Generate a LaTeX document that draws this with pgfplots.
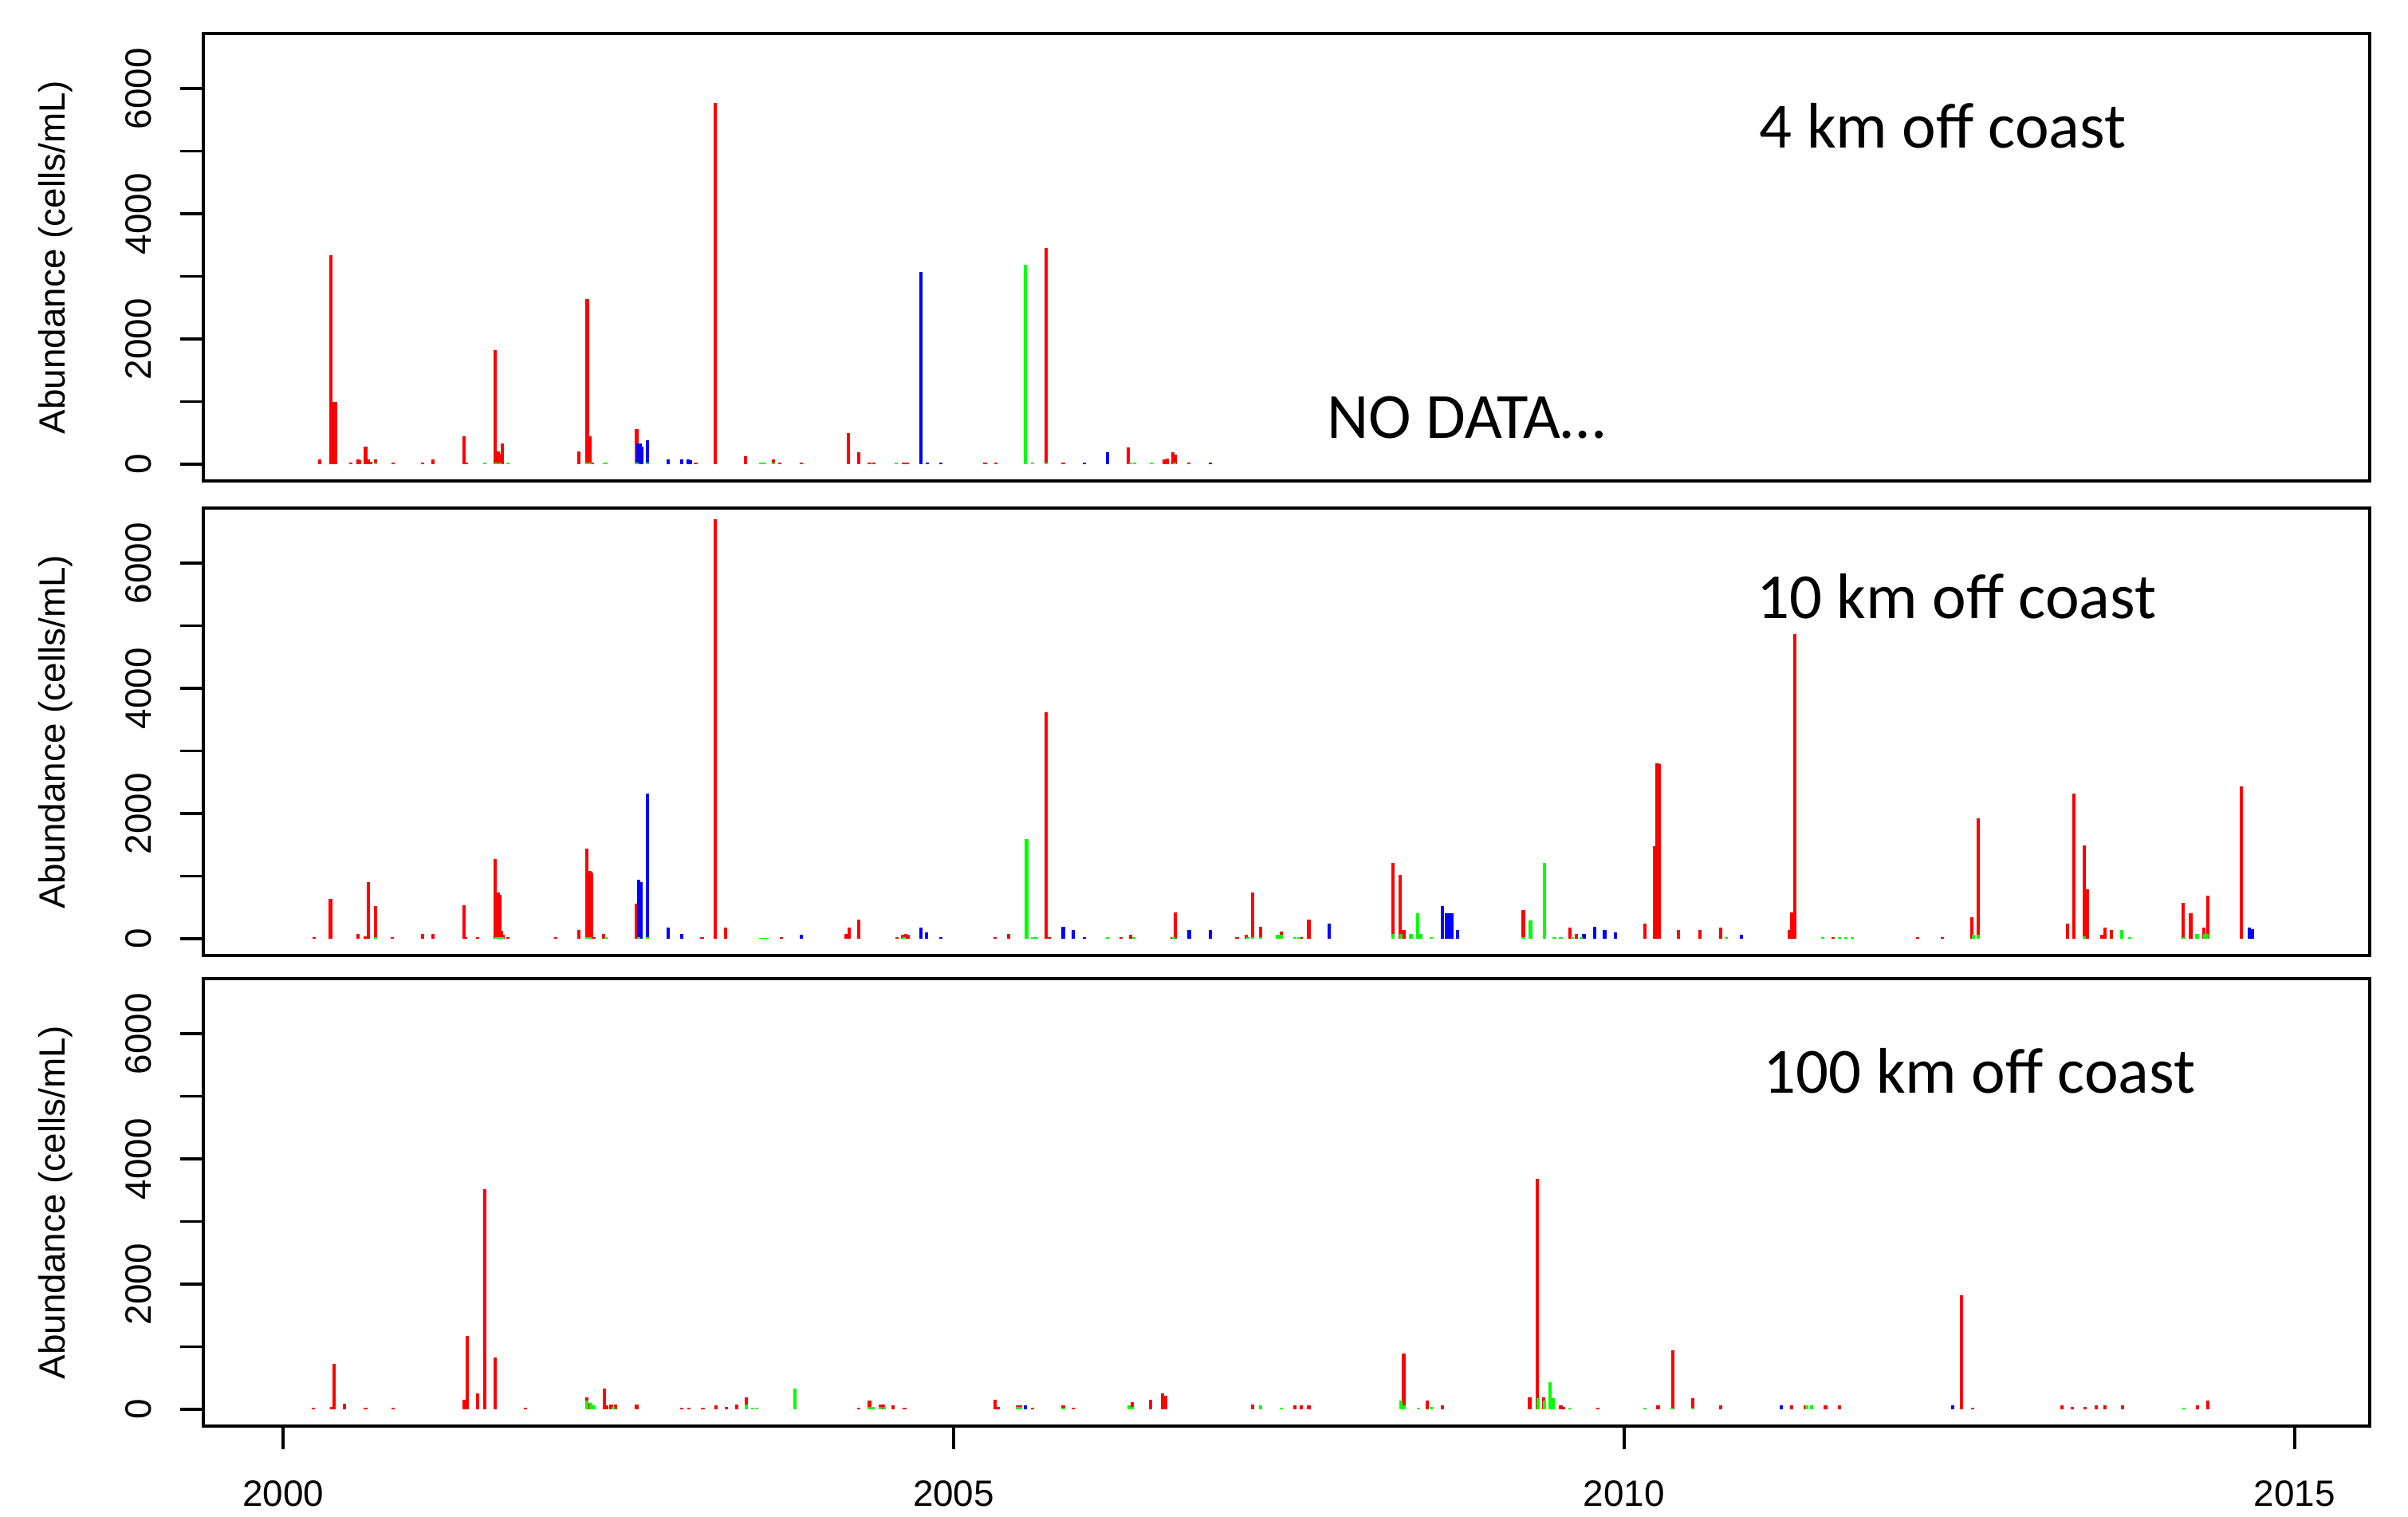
\documentclass[border=0pt]{standalone}
\usepackage{fontspec}
\setmainfont{Liberation Sans}
\newfontfamily\calibri{Carlito}
\usepackage{pgfplots}
\pgfplotsset{compat=1.18}
\definecolor{rred}{RGB}{255,0,0}
\definecolor{rgreen}{RGB}{0,255,0}
\definecolor{rblue}{RGB}{0,0,255}
\pgfplotsset{panel/.style={
  scale only axis, width=652.08pt, height=134.64pt,
  xmin=1999.405, xmax=2015.56, ymin=-267, ymax=6880,
  ytick={0,1000,2000,3000,4000,5000,6000},
  yticklabels={0,,2000,,4000,,6000},
  ytick pos=left, xtick pos=left, tick align=outside,
  major tick length=7pt,
  every tick/.style={black, line width=0.8pt},
  axis line style={line width=0.9pt},
  tick label style={font=\fontsize{11}{13}\selectfont},
  yticklabel style={rotate=90, anchor=south, inner sep=0pt},
  yticklabel shift=8.4pt,
  xticklabel style={anchor=north, inner sep=0pt},
  xticklabel shift=9.3pt,
  clip mode=individual},
  spike/.style={ycomb, mark=none, line width=1.0pt}}
\begin{document}
\begin{tikzpicture}
\path[use as bounding box] (0pt,0pt) rectangle (724.8pt,-456.24pt);
% ---------------- Panel 1: 4 km
\begin{axis}[panel, at={(61.2pt,-10.08pt)}, anchor=north west, xtick=\empty]
\addplot[spike, color=rred] coordinates {
(2000.274,74)(2000.355,3340)(2000.382,1000)(2000.392,1000)(2000.503,28)(2000.557,83)(2000.567,60)(2000.615,282)(2000.637,83)(2000.653,40)(2000.688,83)(2000.822,25)(2001.038,30)(2001.115,83)(2001.347,444)(2001.369,30)(2001.583,1824)(2001.605,199)(2001.621,170)(2001.637,338)(2002.207,199)(2002.268,2634)(2002.290,444)(2002.309,30)(2002.637,560)(2003.077,25)(2003.220,5778)(2003.449,134)(2003.656,83)(2003.704,30)(2003.863,25)(2004.213,500)(2004.293,190)(2004.373,28)(2004.405,28)(2004.628,30)(2004.653,30)(2005.235,28)(2005.314,28)(2005.690,3454)(2005.818,25)(2006.302,273)(2006.572,74)(2006.595,90)(2006.636,190)(2006.652,150)(2006.754,25)};
\addplot[spike, color=rblue] coordinates {
(2002.643,338)(2002.662,338)(2002.675,282)(2002.717,389)(2002.870,83)(2002.971,83)(2003.019,83)(2003.038,60)(2004.755,3070)(2004.803,25)(2004.905,25)(2005.974,25)(2006.149,190)(2006.913,25)};
\addplot[spike, color=rgreen] coordinates {
(2000.688,25)(2001.506,25)(2001.586,25)(2001.618,25)(2001.675,25)(2002.264,25)(2002.287,25)(2002.398,25)(2002.408,25)(2002.637,25)(2002.717,25)(2003.561,20)(2003.577,20)(2003.592,20)(2003.656,25)(2004.573,25)(2005.537,3185)(2005.591,30)(2005.690,20)(2006.318,25)(2006.350,25)(2006.477,25)(2006.646,25)};
\node[anchor=base west, inner sep=0pt, font=\calibri\fontsize{19.4}{23}\selectfont] at (axis cs:2011.005,5057) {4 km off coast};
\node[anchor=base west, inner sep=0pt, font=\calibri\fontsize{19.4}{23}\selectfont] at (axis cs:2007.782,420) {NO DATA\dots};
\node[xshift=-44.4pt, rotate=90, font=\fontsize{11}{13}\selectfont] at (rel axis cs:0,0.5) {Abundance (cells/mL)};
\end{axis}
% ---------------- Panel 2: 10 km
\begin{axis}[panel, at={(61.2pt,-152.88pt)}, anchor=north west, xtick=\empty]
\addplot[spike, color=rred] coordinates {
(2000.232,25)(2000.353,634)(2000.560,83)(2000.615,37)(2000.637,903)(2000.688,519)(2000.815,25)(2001.038,83)(2001.115,83)(2001.347,532)(2001.363,30)(2001.452,30)(2001.580,1273)(2001.605,741)(2001.618,700)(2001.630,125)(2001.643,60)(2001.675,25)(2002.032,25)(2002.207,139)(2002.264,1435)(2002.287,1088)(2002.299,1060)(2002.318,30)(2002.389,83)(2002.637,556)(2003.124,25)(2003.220,6700)(2003.300,185)(2003.714,25)(2004.198,83)(2004.220,185)(2004.293,301)(2004.580,25)(2004.618,60)(2004.643,80)(2004.660,60)
(2005.308,25)(2005.410,79)(2005.690,3625)(2005.712,25)(2006.248,25)(2006.318,60)(2006.627,25)(2006.652,417)(2007.114,25)(2007.184,60)(2007.232,741)(2007.289,194)(2007.417,60)(2007.442,120)(2007.592,25)(2007.649,310)(2008.276,1213)(2008.331,1019)(2008.356,139)(2009.248,463)(2009.598,185)(2009.646,83)
(2010.157,245)(2010.228,1482)(2010.247,2810)(2010.259,2790)(2010.406,139)(2010.565,139)(2010.721,185)(2011.231,139)(2011.247,417)(2011.272,4862)(2011.559,25)(2012.190,25)(2012.371,25)(2012.594,347)(2012.642,1931)(2013.304,245)(2013.352,2324)(2013.432,1491)(2013.457,796)(2013.565,60)(2013.588,185)(2013.635,139)(2014.170,579)(2014.225,403)(2014.323,185)(2014.352,685)(2014.604,2431)};
\addplot[spike, color=rblue] coordinates {
(2002.653,949)(2002.669,900)(2002.717,2315)(2002.870,185)(2002.971,83)(2003.863,60)(2004.755,185)(2004.797,100)(2004.905,25)(2005.818,194)(2005.894,139)(2005.974,25)(2006.757,139)(2006.913,139)(2007.799,245)(2008.643,523)(2008.675,403)(2008.697,403)(2008.716,403)(2008.760,139)(2009.700,83)(2009.780,194)(2009.855,139)(2009.933,100)(2010.874,60)(2014.664,185)(2014.686,150)};
\addplot[spike, color=rgreen] coordinates {
(2000.688,25)(2001.586,25)(2001.611,25)(2001.633,25)(2002.264,25)(2002.287,25)(2002.408,25)(2002.653,25)(2002.717,25)(2003.561,20)(2003.577,20)(2003.592,20)(2003.608,20)(2004.628,25)(2005.544,1597)(2005.592,25)(2005.617,25)(2006.149,25)(2006.343,25)(2006.642,30)(2007.193,25)(2007.232,25)(2007.289,25)(2007.417,60)(2007.442,60)(2007.544,25)(2007.576,25)(2008.276,83)(2008.334,83)(2008.410,83)(2008.461,403)(2008.483,83)(2008.563,25)(2009.248,25)(2009.302,292)(2009.407,1213)(2009.480,25)(2009.528,25)(2009.614,25)(2009.678,25)(2010.763,30)(2011.479,25)(2011.607,25)(2011.655,25)(2011.702,25)(2012.604,70)(2012.642,60)(2013.432,40)(2013.709,139)(2013.772,25)(2014.172,25)(2014.272,83)(2014.330,83)(2014.345,83)};
\node[anchor=base west, inner sep=0pt, font=\calibri\fontsize{19.4}{23}\selectfont] at (axis cs:2010.987,5121) {10 km off coast};
\node[xshift=-44.4pt, rotate=90, font=\fontsize{11}{13}\selectfont] at (rel axis cs:0,0.5) {Abundance (cells/mL)};
\end{axis}
% ---------------- Panel 3: 100 km
\begin{axis}[panel, at={(61.2pt,-294.48pt)}, anchor=north west,
  xtick={2000,2005,2010,2015}, xticklabels={2000,2005,2010,2015}]
\addplot[spike, color=rred] coordinates {
(2000.226,25)(2000.360,40)(2000.382,727)(2000.458,93)(2000.615,25)(2000.822,25)(2001.347,148)(2001.373,1167)(2001.452,255)(2001.503,3519)(2001.580,833)(2001.809,25)(2002.264,194)(2002.287,100)(2002.395,338)(2002.414,60)(2002.446,80)(2002.478,80)(2002.637,80)(2002.971,25)(2003.025,25)(2003.130,25)(2003.226,60)(2003.306,40)(2003.385,83)(2003.456,194)(2004.293,25)(2004.373,139)(2004.453,83)(2004.478,80)(2004.548,60)(2004.634,25)
(2005.308,148)(2005.330,40)(2005.474,60)(2005.499,60)(2005.591,25)(2005.818,60)(2005.894,25)(2006.334,120)(2006.471,148)(2006.556,255)(2006.579,220)(2007.232,83)(2007.544,60)(2007.592,60)(2007.649,60)(2008.356,889)(2008.531,139)(2008.643,60)(2009.296,194)(2009.350,3681)(2009.401,194)(2009.528,60)(2009.550,40)(2009.805,25)
(2010.253,60)(2010.365,940)(2010.514,185)(2010.721,60)(2011.250,60)(2011.352,60)(2011.400,60)(2011.502,60)(2011.606,60)(2012.514,1829)(2012.600,25)(2013.263,60)(2013.343,40)(2013.438,40)(2013.518,60)(2013.588,60)(2013.715,60)(2014.276,60)(2014.352,139)};
\addplot[spike, color=rblue] coordinates {
(2005.537,60)(2011.170,60)(2012.450,60)};
\addplot[spike, color=rgreen] coordinates {
(2002.264,139)(2002.293,100)(2002.318,60)(2002.462,40)(2003.456,83)(2003.500,30)(2003.530,30)(2003.816,338)(2004.373,40)(2004.396,40)(2004.453,40)(2004.485,40)(2005.474,40)(2005.499,40)(2005.818,25)(2006.310,60)(2006.330,40)(2007.289,60)(2007.442,25)(2008.334,139)(2008.356,60)(2008.468,25)(2008.563,40)(2009.360,180)(2009.407,139)(2009.445,440)(2009.470,180)(2009.598,25)(2010.157,25)(2010.358,25)(2010.514,25)(2011.360,60)(2011.400,60)(2014.172,25)};
\node[anchor=base west, inner sep=0pt, font=\calibri\fontsize{19.4}{23}\selectfont] at (axis cs:2011.035,5057) {100 km off coast};
\node[xshift=-44.4pt, rotate=90, font=\fontsize{11}{13}\selectfont] at (rel axis cs:0,0.5) {Abundance (cells/mL)};
\end{axis}
\end{tikzpicture}
\end{document}
